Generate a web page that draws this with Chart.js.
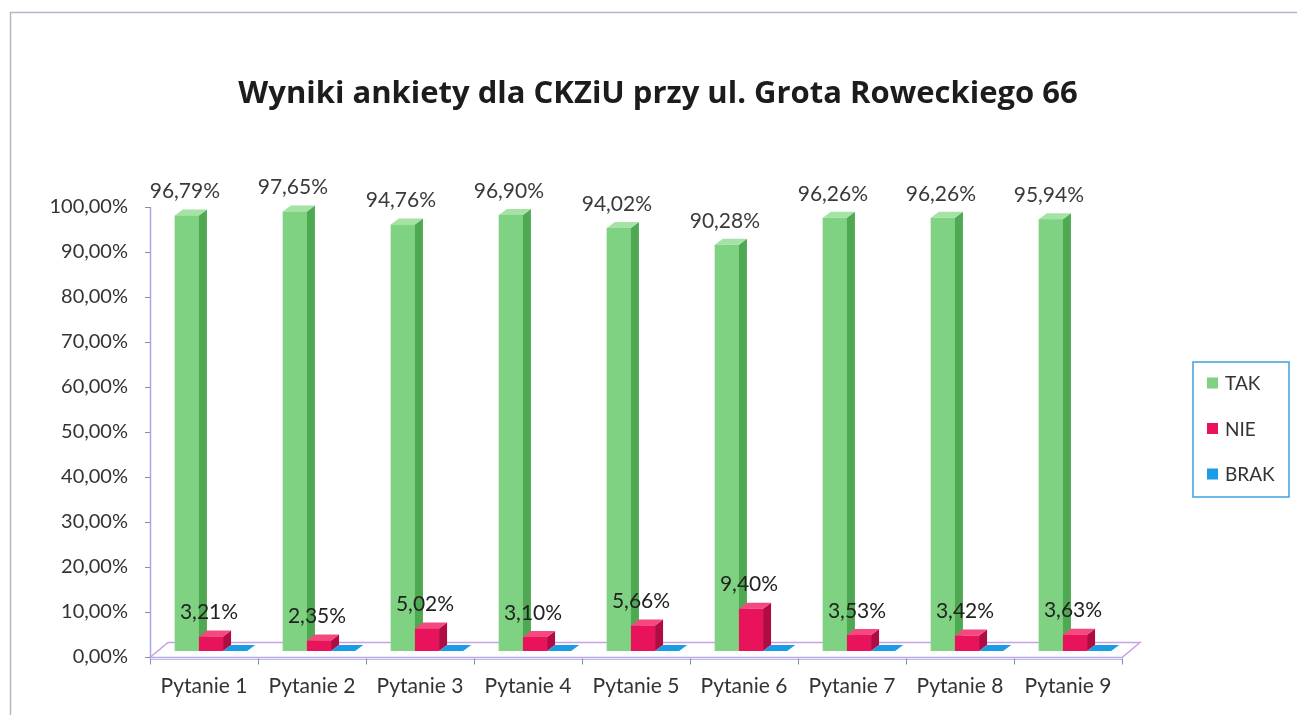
<!DOCTYPE html>
<html>
<head>
<meta charset="utf-8">
<script src="https://cdn.jsdelivr.net/npm/chart.js@4/dist/chart.umd.min.js"></script>
<style>
  html, body { margin: 0; padding: 0; background: #ffffff; }
  #wrap { position: relative; width: 1297px; height: 715px; }
</style>
</head>
<body>
<div id="wrap"><canvas id="c" width="1297" height="715"></canvas></div>
<script>
const chartTitle = 'Wyniki ankiety dla CKZiU przy ul. Grota Roweckiego 66';
const categories = ['Pytanie 1', 'Pytanie 2', 'Pytanie 3', 'Pytanie 4', 'Pytanie 5', 'Pytanie 6', 'Pytanie 7', 'Pytanie 8', 'Pytanie 9'];
const seriesNames = ['TAK', 'NIE', 'BRAK'];
const takValues = [96.79, 97.65, 94.76, 96.90, 94.02, 90.28, 96.26, 96.26, 95.94];
const nieValues = [3.21, 2.35, 5.02, 3.10, 5.66, 9.40, 3.53, 3.42, 3.63];
const brakValues = [0, 0, 0, 0, 0, 0, 0, 0, 0];
const yTickValues = [0, 10, 20, 30, 40, 50, 60, 70, 80, 90, 100];

const FONT = 'Lato, "Open Sans", sans-serif';
const fmt = v => v.toFixed(2).replace('.', ',') + '%';

// 3D styling
const faces = [
  { front: '#80d283', side: '#4fa952', top: '#a4e2a6' },
  { front: '#e8135b', side: '#b00c44', top: '#f5487f' },
  { front: '#1b9ce6', side: '#0f74b3', top: '#1b9ce6' }
];
const SHIFT = { x: 7, y: -6 };
const DEPTH = { x: 8, y: 6 };
const FLOOR = { x: 18, y: -15 };

const threeD = {
  id: 'threeD',
  beforeDraw(chart) {
    const ctx = chart.ctx;
    ctx.save();
    ctx.fillStyle = '#ffffff';
    ctx.fillRect(0, 0, chart.width, chart.height);
    ctx.strokeStyle = '#b4b6c6';
    ctx.lineWidth = 1.5;
    ctx.strokeRect(10.5, 12.5, chart.width + 50, chart.height + 50);
    ctx.restore();
  },
  beforeDatasetsDraw(chart) {
    const ctx = chart.ctx;
    const a = chart.chartArea;
    const yb = a.bottom + 0.5;
    ctx.save();
    // floor
    ctx.beginPath();
    ctx.moveTo(a.left, yb);
    ctx.lineTo(a.right, yb);
    ctx.lineTo(a.right + FLOOR.x, yb + FLOOR.y);
    ctx.lineTo(a.left + FLOOR.x, yb + FLOOR.y);
    ctx.closePath();
    ctx.fillStyle = '#ffffff';
    ctx.fill();
    ctx.strokeStyle = '#c7a2e2';
    ctx.lineWidth = 1.5;
    ctx.stroke();
    ctx.beginPath();
    ctx.moveTo(a.left, yb + 2);
    ctx.lineTo(a.right, yb + 2);
    ctx.strokeStyle = '#a9c2ee';
    ctx.lineWidth = 1;
    ctx.stroke();
    // y axis line
    ctx.beginPath();
    ctx.moveTo(a.left + 0.5, a.top);
    ctx.lineTo(a.left + 0.5, yb);
    ctx.strokeStyle = '#a6a8e6';
    ctx.lineWidth = 1.5;
    ctx.stroke();
    // y tick marks
    const ys = chart.scales.y;
    ctx.strokeStyle = '#8a8ca8';
    ctx.lineWidth = 1;
    ys.ticks.forEach(t => {
      const py = Math.round(ys.getPixelForValue(t.value)) + 0.5;
      ctx.beginPath();
      ctx.moveTo(a.left - 5, py);
      ctx.lineTo(a.left, py);
      ctx.stroke();
    });
    // x tick marks at category boundaries
    const step = (a.right - a.left) / categories.length;
    for (let i = 0; i <= categories.length; i++) {
      const px = Math.round(a.left + step * i) + 0.5;
      ctx.beginPath();
      ctx.moveTo(px, yb + 1);
      ctx.lineTo(px, yb + 7);
      ctx.stroke();
    }
    ctx.restore();
    // shift bars for the 3D depth
    ctx.save();
    ctx.translate(SHIFT.x, SHIFT.y);
  },
  afterDatasetsDraw(chart) {
    const ctx = chart.ctx;
    // redraw bars in series order with their 3D faces
    chart.data.datasets.forEach((ds, di) => {
      const f = faces[di];
      chart.getDatasetMeta(di).data.forEach(bar => {
        const p = bar.getProps(['x', 'y', 'base', 'width'], true);
        const l = p.x - p.width / 2, r = p.x + p.width / 2;
        ctx.fillStyle = f.front;
        ctx.fillRect(l, p.y, p.width, p.base - p.y);
        ctx.beginPath();
        ctx.moveTo(r, p.y);
        ctx.lineTo(r + DEPTH.x, p.y - DEPTH.y);
        ctx.lineTo(r + DEPTH.x, p.base - DEPTH.y);
        ctx.lineTo(r, p.base);
        ctx.closePath();
        ctx.fillStyle = f.side;
        ctx.fill();
        ctx.beginPath();
        ctx.moveTo(l, p.y);
        ctx.lineTo(l + DEPTH.x, p.y - DEPTH.y);
        ctx.lineTo(r + DEPTH.x, p.y - DEPTH.y);
        ctx.lineTo(r, p.y);
        ctx.closePath();
        ctx.fillStyle = f.top;
        ctx.fill();
      });
    });
    ctx.restore();

    ctx.save();
    ctx.font = '21px ' + FONT;
    ctx.textAlign = 'center';
    ctx.textBaseline = 'middle';
    [0, 1].forEach(di => {
      const meta = chart.getDatasetMeta(di);
      const vals = chart.data.datasets[di].data;
      ctx.fillStyle = di === 0 ? '#3a3a3a' : '#222222';
      meta.data.forEach((bar, i) => {
        ctx.fillText(fmt(vals[i]), bar.x + SHIFT.x - 2, bar.y + SHIFT.y - 24);
      });
    });
    ctx.restore();
  },
  afterDraw(chart) {
    const ctx = chart.ctx;
    ctx.save();
    // title
    ctx.font = 'bold 31px "Open Sans", Lato, sans-serif';
    ctx.fillStyle = '#1c1c1c';
    ctx.textAlign = 'center';
    ctx.textBaseline = 'alphabetic';
    ctx.fillText(chartTitle, 658, 103);
    // legend
    ctx.strokeStyle = '#3f9fe0';
    ctx.lineWidth = 1.5;
    ctx.strokeRect(1193, 362, 96, 135);
    ctx.font = '19px ' + FONT;
    ctx.textAlign = 'left';
    ctx.textBaseline = 'middle';
    chart.data.datasets.forEach((ds, i) => {
      const cy = 383 + i * 45.5;
      ctx.fillStyle = ds.backgroundColor;
      ctx.fillRect(1207, cy - 5.5, 11, 11);
      ctx.fillStyle = '#333333';
      ctx.fillText(ds.label, 1225, cy + 1);
    });
    ctx.restore();
  }
};

new Chart(document.getElementById('c'), {
  type: 'bar',
  data: {
    labels: categories,
    datasets: [
      { label: seriesNames[0], data: takValues, backgroundColor: faces[0].front },
      { label: seriesNames[1], data: nieValues, backgroundColor: faces[1].front },
      { label: seriesNames[2], data: brakValues, backgroundColor: faces[2].front }
    ]
  },
  options: {
    responsive: false,
    animation: false,
    devicePixelRatio: 1,
    layout: { padding: { top: 207, right: 175, bottom: 0, left: 0 } },
    datasets: { bar: { categoryPercentage: 0.67, barPercentage: 1.0, borderWidth: 0 } },
    plugins: {
      legend: { display: false },
      title: { display: false },
      tooltip: { enabled: false }
    },
    scales: {
      x: {
        grid: { display: false, drawTicks: false },
        border: { display: false },
        ticks: { font: { family: FONT, size: 21 }, color: '#333333', padding: 17, maxRotation: 0 },
        afterFit(s) { s.height = 58; }
      },
      y: {
        min: 0, max: 100,
        afterBuildTicks(s) { s.ticks = yTickValues.map(v => ({ value: v })); },
        grid: { display: false, drawTicks: false },
        border: { display: false },
        ticks: { font: { family: FONT, size: 20 }, color: '#333333', padding: 22, callback: v => fmt(v) },
        afterFit(s) { s.width = 150; }
      }
    }
  },
  plugins: [threeD]
});
</script>
</body>
</html>
